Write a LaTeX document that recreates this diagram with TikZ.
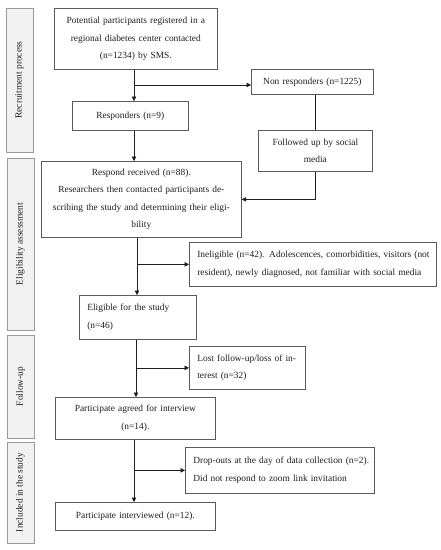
\documentclass[tikz,border=0pt]{standalone}
\usepackage{fontspec}
\setmainfont{Liberation Serif}
\usetikzlibrary{arrows.meta,positioning}
\definecolor{boxline}{HTML}{5A5A5A}
\definecolor{sideline}{HTML}{9A9A9A}
\definecolor{sidefill}{HTML}{F1F1F1}
\definecolor{txt}{HTML}{1E1E1E}
\tikzset{
  x=1pt,y=-1pt,
  fbox/.style={draw=boxline, line width=0.7pt, fill=white, anchor=north west,
    inner ysep=0pt, inner xsep=4pt, text=txt,
    font=\fontsize{9.4}{17.5}\selectfont},
  cbox/.style={fbox, align=center},
  lbox/.style={fbox, align=left, inner xsep=8pt},
  sidebox/.style={draw=sideline, line width=0.8pt, fill=sidefill, rotate=90,
    minimum height=27pt, inner sep=0pt, text=txt,
    font=\fontsize{9.4}{11}\selectfont},
  arr/.style={draw=txt, line width=0.6pt, -{Triangle[length=4.5pt,width=4.5pt]}},
  ln/.style={draw=txt, line width=0.6pt}
}
\begin{document}
\begin{tikzpicture}
\useasboundingbox (0,0) rectangle (441,550);
% side labels
\node[sidebox, minimum width=144pt] (s1) at (19.5,80) {Recruitment process};
\node[sidebox, minimum width=172pt] (s2) at (20.5,244) {Eligibility assessment};
\node[sidebox, minimum width=103pt] (s3) at (20.5,386.5) {Follow-up};
\node[sidebox, minimum width=101pt] (s4) at (20.5,492.5) {Included in the study};
% boxes
\node[cbox, minimum width=163pt, minimum height=61pt, text width=155pt] (pot) at (54,8)
  {Potential participants registered in a\\ regional diabetes center contacted\\ (n=1234) by SMS.};
\node[cbox, minimum width=122pt, minimum height=25pt, text width=114pt] (nonr) at (251,69)
  {Non responders (n=1225)};
\node[cbox, minimum width=116pt, minimum height=29pt, text width=108pt] (resp) at (72,101)
  {Responders (n=9)};
\node[cbox, minimum width=114pt, minimum height=41pt, text width=106pt] (fol) at (258,130)
  {Followed up by social\\ media};
\node[cbox, minimum width=200pt, minimum height=76pt, text width=192pt] (rr) at (41,161)
  {Respond received (n=88).\\ Researchers then contacted participants de-\\ scribing the study and determining their eligi-\\ bility};
\node[lbox, minimum width=247pt, minimum height=44pt, text width=231pt] (inel) at (189,242)
  {\mbox{Ineligible (n=42). Adolescences, comorbidities, visitors (not}\\ \mbox{resident), newly diagnosed, not familiar with social media}};
\node[lbox, minimum width=117pt, minimum height=44pt, text width=101pt] (elig) at (79,295)
  {Eligible for the study\\ (n=46)};
\node[lbox, minimum width=116pt, minimum height=43pt, text width=100pt] (lost) at (189,346)
  {\mbox{Lost follow-up/loss of in-}\\ terest (n=32)};
\node[cbox, minimum width=160pt, minimum height=42pt, text width=152pt] (agr) at (55,397)
  {Participate agreed for interview\\ (n=14).};
\node[lbox, minimum width=189pt, minimum height=46pt, text width=173pt] (drop) at (185,447)
  {\mbox{Drop-outs at the day of data collection (n=2).}\\ \mbox{Did not respond to zoom link invitation}};
\node[cbox, minimum width=160pt, minimum height=28pt, text width=152pt] (intv) at (55,502)
  {Participate interviewed (n=12).};
% guide coordinates
\coordinate (c1) at (134,0);
\coordinate (b1) at (0,85);
\coordinate (c2) at (137,0);
\coordinate (c3) at (136,0);
\coordinate (c4) at (134,0);
% connectors
\draw[arr] (c1 |- pot.south) -- (c1 |- resp.north);
\draw[arr] (c1 |- b1) -- (nonr.west |- b1);
\draw[ln] (fol.north |- nonr.south) -- (fol.north);
\draw[arr] (c1 |- resp.south) -- (c1 |- rr.north);
\draw[arr] (fol.south) |- (rr.east);
\draw[arr] (c2 |- rr.south) -- (c2 |- elig.north);
\draw[arr] (c2 |- inel.west) -- (inel.west);
\draw[arr] (c3 |- elig.south) -- (c3 |- agr.north);
\draw[arr] (c3 |- lost.west) -- (lost.west);
\draw[arr] (c4 |- agr.south) -- (c4 |- intv.north);
\draw[arr] (c4 |- drop.west) -- (drop.west);
\end{tikzpicture}
\end{document}
